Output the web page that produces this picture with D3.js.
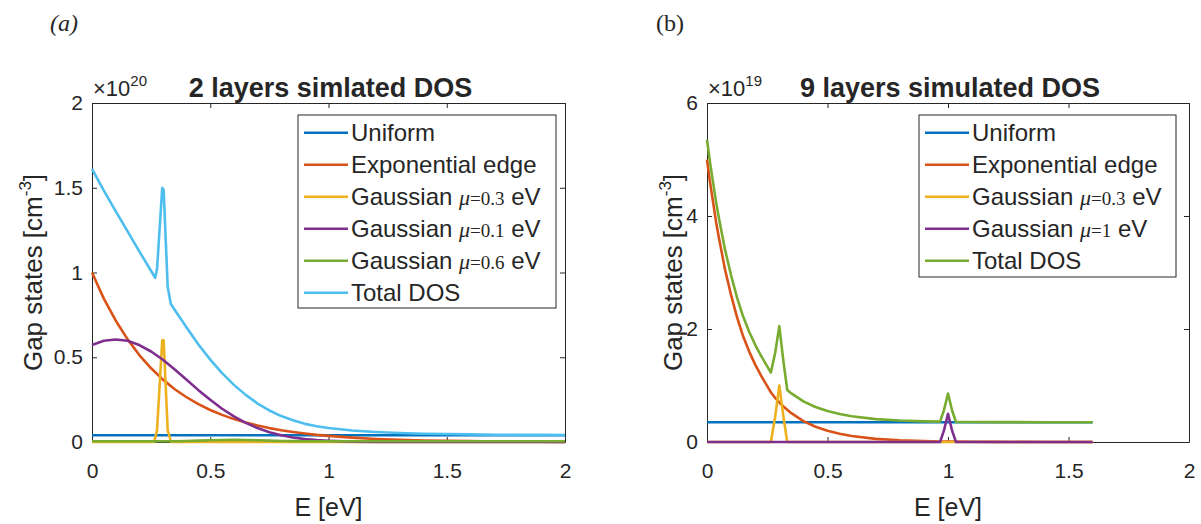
<!DOCTYPE html>
<html><head><meta charset="utf-8">
<script src="https://cdn.jsdelivr.net/npm/d3@7"></script>
<style>
body{margin:0;background:#fff}
svg{display:block}
text{font-family:"Liberation Sans",Arial,sans-serif;fill:#262626}
</style>
</head><body>
<svg id="c" width="1201" height="524"></svg>
<script>
// ---------- tick labels ----------
const xTicks = [0, 0.5, 1, 1.5, 2];
const leftYTicks = [0, 0.5, 1, 1.5, 2];
const rightYTicks = [0, 2, 4, 6];

// ---------- panel (a): 2 layers, values in units of 1e20 cm^-3 ----------
const aUniformE = [0, 2];
const aUniform  = [0.04, 0.04];
const aGridE = [0,0.05,0.1,0.15,0.2,0.25,0.3,0.35,0.4,0.45,0.5,0.55,0.6,0.65,0.7,0.75,0.8,0.85,0.9,0.95,1.0,1.1,1.2,1.3,1.4,1.5,1.6,1.7,1.8,1.9,2.0];
const aExp   = [1.000,0.846,0.717,0.607,0.513,0.435,0.368,0.311,0.264,0.223,0.189,0.160,0.135,0.115,0.097,0.082,0.069,0.059,0.050,0.042,0.036,0.026,0.018,0.013,0.009,0.007,0.005,0.003,0.002,0.002,0.001];
const aG01   = [0.572,0.597,0.605,0.597,0.572,0.534,0.485,0.428,0.367,0.306,0.249,0.196,0.151,0.113,0.082,0.058,0.040,0.027,0.017,0.011,0.007,0.002,0.001,0,0,0,0,0,0,0,0];
const aG03E  = [0,0.263,0.275,0.297,0.303,0.32,0.334,2];
const aG03   = [0,0,0.07,0.6,0.6,0.07,0,0];
const aG06E  = [0,0.35,0.4,0.45,0.5,0.55,0.6,0.65,0.7,0.75,0.8,0.85,0.9,2];
const aG06   = [0.004,0.004,0.006,0.008,0.010,0.012,0.013,0.012,0.010,0.008,0.006,0.005,0.004,0.004];
const aTotalE = [0,0.05,0.1,0.15,0.2,0.25,0.267,0.275,0.297,0.303,0.32,0.333,0.35,0.4,0.45,0.5,0.55,0.6,0.65,0.7,0.75,0.8,0.85,0.9,0.95,1.0,1.1,1.2,1.3,1.4,1.5,1.6,1.7,1.8,1.9,2.0];
const aTotal  = [1.612,1.483,1.362,1.244,1.125,1.009,0.969,1.02,1.499,1.487,0.916,0.816,0.779,0.675,0.575,0.486,0.406,0.337,0.278,0.227,0.186,0.153,0.128,0.107,0.093,0.083,0.068,0.059,0.053,0.049,0.047,0.045,0.043,0.042,0.042,0.041];

// ---------- panel (b): 9 layers, values in units of 1e19 cm^-3 ----------
const bUniformE = [0, 1.6];
const bUniform  = [0.35, 0.35];
const bGridE = [0,0.0125,0.025,0.0375,0.05,0.075,0.1,0.125,0.15,0.175,0.2,0.225,0.25,0.265,0.283,0.3,0.317,0.333,0.35,0.4,0.45,0.5,0.55,0.6,0.7,0.8,0.9,0.967,0.983,1.0,1.017,1.033,1.1,1.2,1.4,1.6];
const bExp   = [5.0,4.6,4.25,3.9,3.6,3.05,2.6,2.2,1.87,1.6,1.37,1.17,0.99,0.88,0.78,0.70,0.63,0.57,0.51,0.37,0.27,0.2,0.145,0.105,0.055,0.03,0.015,0.01,0.009,0.008,0.007,0.006,0.004,0.002,0.0005,0];
const bTotal = [5.35,4.95,4.6,4.25,3.95,3.4,2.95,2.55,2.22,1.95,1.72,1.52,1.34,1.23,1.58,2.05,1.43,0.92,0.86,0.72,0.62,0.55,0.495,0.455,0.405,0.38,0.365,0.36,0.559,0.858,0.557,0.356,0.354,0.352,0.35,0.35];
const bG03E  = [0,0.265,0.283,0.3,0.317,0.333,1.6];
const bG03   = [0,0,0.45,1.0,0.45,0,0];
const bG1E   = [0,0.967,0.983,1.0,1.017,1.033,1.6];
const bG1    = [0,0,0.2,0.5,0.2,0,0];

// ---------- legend labels ----------
const aLegend = ["Uniform","Exponential edge","Gaussian μ=0.3 eV","Gaussian μ=0.1 eV","Gaussian μ=0.6 eV","Total DOS"];
const bLegend = ["Uniform","Exponential edge","Gaussian μ=0.3 eV","Gaussian μ=1 eV","Total DOS"];

const C = {blue:"#0072BD", orange:"#D95319", yellow:"#EDB120", purple:"#7E2F8E", green:"#77AC30", cyan:"#4DBEEE"};
const AX = "#262626";

const panels = [
  {x0:92, x1:565, y0:103, y1:442, yMax:2, yTicks:leftYTicks, yLabX:42, expo:"20",
   title:"2 layers simlated DOS", tag:"(a)", tagItalic:true, tagX:50,
   legend:{x:298, y:115, w:258, h:193}, labels:aLegend,
   series:[
     {E:aUniformE, V:aUniform, c:C.blue},
     {E:aGridE, V:aExp, c:C.orange},
     {E:aG03E, V:aG03, c:C.yellow},
     {E:aGridE, V:aG01, c:C.purple},
     {E:aG06E, V:aG06, c:C.green},
     {E:aTotalE, V:aTotal, c:C.cyan}
   ]},
  {x0:707, x1:1189, y0:103, y1:442, yMax:6, yTicks:rightYTicks, yLabX:682, expo:"19",
   title:"9 layers simulated DOS", tag:"(b)", tagItalic:false, tagX:656,
   legend:{x:919, y:115, w:257, h:162}, labels:bLegend,
   series:[
     {E:bUniformE, V:bUniform, c:C.blue},
     {E:bGridE, V:bExp, c:C.orange},
     {E:bG03E, V:bG03, c:C.yellow},
     {E:bG1E, V:bG1, c:C.purple},
     {E:bGridE, V:bTotal, c:C.green}
   ]}
];

const svg = d3.select("#c");

panels.forEach(p => {
  const x = d3.scaleLinear().domain([0,2]).range([p.x0, p.x1]);
  const y = d3.scaleLinear().domain([0,p.yMax]).range([p.y1, p.y0]);
  const g = svg.append("g");

  const fmt = d3.format("~g");
  const styleAxis = sel => {
    sel.select(".domain").attr("stroke", AX);
    sel.selectAll(".tick line").attr("stroke", AX);
    sel.selectAll(".tick text").attr("fill", AX)
       .style("font-family", '"Liberation Sans",Arial,sans-serif').style("font-size","21px");
  };
  g.append("g").attr("transform",`translate(0,${p.y1})`)
    .call(d3.axisBottom(x).tickValues(xTicks).tickFormat(fmt).tickSizeInner(-5).tickSizeOuter(0).tickPadding(21))
    .call(styleAxis);
  g.append("g").attr("transform",`translate(0,${p.y0})`)
    .call(d3.axisTop(x).tickValues(xTicks).tickFormat("").tickSizeInner(-5).tickSizeOuter(0))
    .call(styleAxis);
  g.append("g").attr("transform",`translate(${p.x0},0)`)
    .call(d3.axisLeft(y).tickValues(p.yTicks).tickFormat(fmt).tickSizeInner(-5).tickSizeOuter(0).tickPadding(9))
    .call(styleAxis);
  g.append("g").attr("transform",`translate(${p.x1},0)`)
    .call(d3.axisRight(y).tickValues(p.yTicks).tickFormat("").tickSizeInner(-5).tickSizeOuter(0))
    .call(styleAxis);

  // data lines
  const line = d3.line().x(d => x(d[0])).y(d => y(d[1]));
  p.series.forEach(s => {
    g.append("path").attr("d", line(d3.zip(s.E, s.V)))
      .attr("fill","none").attr("stroke", s.c).attr("stroke-width", 2.6)
      .attr("stroke-linejoin","round");
  });

  // panel tag
  svg.append("text").attr("x", p.tagX).attr("y", 31)
    .style("font-family", '"Liberation Serif","Times New Roman",serif')
    .style("font-style", p.tagItalic ? "italic" : "normal")
    .style("font-size","24px").attr("fill","#000").text(p.tag);

  // exponent
  const ex = svg.append("text").attr("x", p.x0 + 1).attr("y", 96).style("font-size","22px").attr("fill","#555");
  ex.append("tspan").text("×10");
  ex.append("tspan").attr("dy", -10).style("font-size","15px").text(p.expo);

  // title
  svg.append("text").attr("x", (p.x0 + p.x1)/2 + 2).attr("y", 97)
    .attr("text-anchor","middle").style("font-weight","bold").style("font-size","27px")
    .attr("fill","#000").text(p.title);

  // x label
  svg.append("text").attr("x", (p.x0 + p.x1)/2).attr("y", 516)
    .attr("text-anchor","middle").style("font-size","25px").text("E [eV]");

  // y label
  const yl = svg.append("text")
    .attr("transform", `translate(${p.yLabX},${(p.y0 + p.y1)/2}) rotate(-90)`)
    .attr("text-anchor","middle").style("font-size","26px");
  yl.append("tspan").text("Gap states [cm");
  yl.append("tspan").attr("dy", -11).style("font-size","17px").text("-3");
  yl.append("tspan").attr("dy", 11).text("]");

  // legend
  const L = p.legend;
  const lg = svg.append("g");
  lg.append("rect").attr("x", L.x).attr("y", L.y).attr("width", L.w).attr("height", L.h)
    .attr("fill","#fff").attr("stroke", AX).attr("stroke-width", 1);
  p.labels.forEach((lab, i) => {
    const cy = L.y + 17.7 + i * 32;
    lg.append("line").attr("x1", L.x + 6).attr("x2", L.x + 50).attr("y1", cy).attr("y2", cy)
      .attr("stroke", p.series[i].c).attr("stroke-width", 2.6);
    const t = lg.append("text").attr("x", L.x + 53).attr("y", cy + 8).style("font-size","24px").attr("fill","#000");
    const m = lab.indexOf("μ");
    if (m < 0) { t.text(lab); }
    else {
      const before = lab.slice(0, m);
      const rest = lab.slice(m + 1);
      const sp = rest.indexOf(" ");
      t.append("tspan").text(before);
      t.append("tspan").style("font-family",'"Liberation Serif","Times New Roman",serif')
        .style("font-style","italic").style("font-size","22px").text("μ");
      t.append("tspan").style("font-family",'"Liberation Serif","Times New Roman",serif')
        .style("font-size","19px").text(rest.slice(0, sp));
      t.append("tspan").text(rest.slice(sp));
    }
  });
});
</script>
</body></html>
